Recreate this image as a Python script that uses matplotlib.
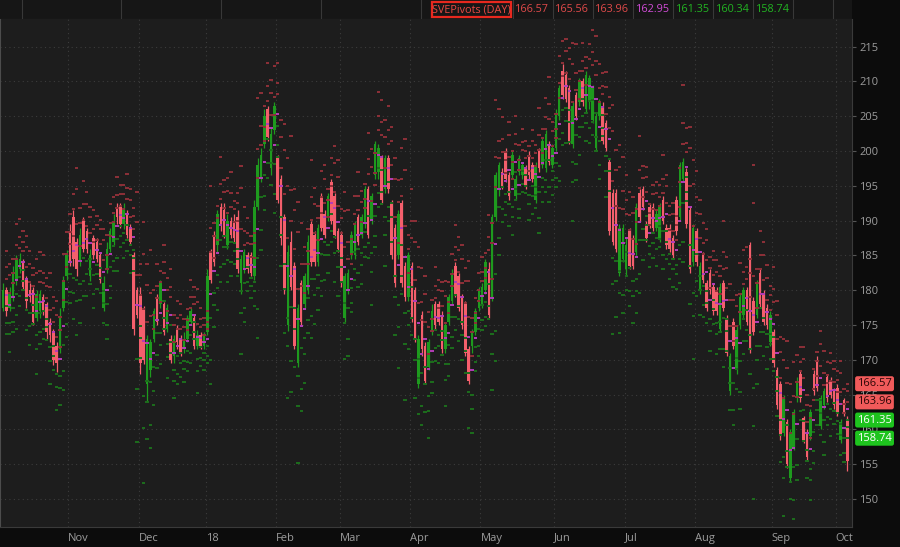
#!/usr/bin/env python3
"""Daily candles with SVE pivot levels, dark trading-platform style."""
import numpy as np
import matplotlib
matplotlib.use('Agg')
import matplotlib.pyplot as plt
from matplotlib.patches import Rectangle
from matplotlib.transforms import blended_transform_factory

# Daily OHLC (one value per bar, left to right)
opens = [177.5, 180, 177.5, 179, 181.5, 183, 184, 181.5, 180, 180, 176, 177, 179, 178, 175.5, 174, 172, 171.5, 177.5, 182,
         188.5, 190.5, 187, 184, 190, 188.5, 182, 187.5, 187, 185, 177.5, 183, 186, 187, 192, 192, 189.5, 191, 189, 185,
         180, 179.5, 177.5, 166.5, 168.5, 173, 179, 178, 178, 174.5, 173, 170.5, 174.5, 173, 171.5, 173, 175.5, 176, 172, 173.5,
         172, 174, 185.5, 188, 186.5, 192, 191.5, 186.5, 190, 190, 190.5, 181, 183, 185, 185, 182, 192, 196, 201, 206,
         197.5, 203, 199, 196, 190.5, 175, 187, 183.5, 169.5, 181, 178, 180, 189.5, 188, 184, 193.5, 191, 190.5, 195.5, 193.5,
         188.5, 188, 176, 180, 185, 185, 190.5, 188, 189.5, 194.5, 190, 196.5, 197, 199, 194.5, 199, 192.5, 189, 185, 192.5,
         183.5, 179, 183.5, 180, 166.5, 176.5, 172, 169, 174.2, 178, 178, 176.5, 171.5, 175.5, 178.5, 183.5, 182, 179, 178, 171.5,
         172, 174, 177.5, 178, 180, 183, 179, 190.5, 194.5, 197, 200, 196.5, 196.5, 193.5, 197, 196.5, 197.5, 199.5, 198, 193,
         200, 198, 197.5, 201, 198, 200.5, 205, 211.5, 211, 209, 201, 208, 207, 210, 206, 207, 204.5, 200.5, 205, 206.5,
         204, 198.5, 194, 194, 182.5, 184.5, 183, 188.5, 187.5, 185.5, 194, 194.5, 189.5, 192, 192, 189, 187.5, 193, 189, 189,
         187.5, 193, 190.5, 196, 197, 191.5, 184, 188.5, 180, 185, 181, 182.5, 180.5, 180, 174.5, 181, 176, 165.5, 175.5, 168.5,
         175, 176.5, 180, 186.5, 178.5, 176.5, 182.5, 179.5, 177.5, 172.5, 174, 168.5, 166.5, 159.5, 161, 153, 157.5, 164.5, 168, 161.7,
         159.5, 159, 168, 170, 160.5, 163.5, 167.5, 167, 165.5, 166, 158.5, 164.2, 161.5]
highs = [181, 180.5, 180.5, 183.5, 185, 185.3, 184.5, 182, 181, 180.5, 180, 180, 179.5, 178.3, 176, 174.5, 172.5, 177.5, 182, 185.8,
         189.5, 191.5, 187.5, 189, 190.5, 189, 186, 188, 187.5, 185.5, 182, 187, 189, 191, 192.5, 192.5, 192.5, 191.5, 189.5, 185.5,
         180.5, 180.5, 177.8, 173.5, 173, 177.5, 179.5, 181.5, 178.3, 178, 173.5, 173.5, 175, 173.5, 174, 176.5, 177.5, 176.5, 174.3, 174,
         174, 183, 186, 188.5, 191.5, 192.5, 192.5, 191, 190.5, 191, 191.5, 185, 186, 185.5, 185.5, 193, 199, 200.5, 206, 206.5,
         203.5, 207, 199.5, 196.5, 191, 186.5, 188.5, 184, 178, 181.5, 182.5, 188, 190, 188.5, 189.5, 194, 191.5, 194, 196, 194,
         189, 188.5, 182.5, 183, 188.5, 190, 191, 191, 195, 195, 194, 201.5, 201, 199.5, 199.5, 199.5, 193, 189.5, 191.5, 193,
         184, 185.5, 184, 180.5, 173.5, 177, 172.5, 173, 178, 178.5, 178.5, 177, 175.5, 179.5, 183, 184, 182.5, 179.5, 178.5, 172,
         174.5, 177.5, 180.5, 181, 184.5, 184, 191, 197, 198.5, 197.5, 200.5, 197, 200, 196.5, 199.5, 198.5, 198, 200, 198.5, 198.5,
         200.5, 202, 203, 201.5, 201, 206, 209.5, 212.5, 211.5, 209.5, 207, 208.5, 210.5, 210.5, 211.5, 211, 209.5, 205.5, 207.5, 207,
         204.5, 199, 194.5, 194.5, 189.5, 189.5, 187.5, 189, 188, 192.5, 194.5, 195, 190, 192.5, 192.5, 191.5, 192.5, 193.5, 189.5, 189.5,
         188, 193.5, 198.5, 199, 197.5, 192, 189.5, 189, 184, 185.5, 181.5, 183, 181, 180.5, 181, 181.5, 176.5, 171, 176, 175,
         179.5, 180.5, 180.5, 187, 179, 181.5, 183, 180, 178, 177, 174.5, 169, 167, 165, 161.5, 160, 163, 167.5, 168.5, 162,
         160, 163, 168.5, 170.5, 165, 166, 168, 167.5, 166, 166.5, 161.5, 164.55, 162]
lows = [177, 176.3, 177, 178.5, 180.8, 182.5, 180, 177.5, 178.3, 175, 175.6, 176, 176.5, 173, 172.5, 169.3, 168.3, 171, 177, 181.5,
        183.5, 183.5, 182, 183.5, 185.5, 185.3, 181.3, 184.5, 184, 181, 177, 182.5, 185.5, 186.5, 189.5, 189, 188.8, 187.5, 186.5, 173.5,
        176, 168, 169.4, 164, 167.5, 172.5, 175, 177.5, 173.5, 174, 169.5, 169.5, 171.5, 170.5, 171, 172.5, 175, 171.5, 171.5, 171.5,
        171.5, 173.5, 181, 183.5, 185.5, 188.5, 187.5, 186, 187.5, 187, 182.5, 179.5, 182.5, 182.5, 182, 181.5, 191.5, 195.5, 200.5, 201.5,
        196.5, 202.5, 192.5, 186.5, 179.5, 174.2, 180, 171.5, 169, 175, 177.5, 179.5, 183.5, 183.5, 183.5, 188.5, 187.5, 190, 189.5, 187.5,
        185.5, 180.5, 175.5, 179.5, 184.5, 184.5, 186.5, 187.5, 189, 187.5, 189.5, 196, 196, 192.5, 194, 194, 184.5, 180.5, 184.5, 180.5,
        178.5, 178.5, 175.5, 172.5, 166, 170.5, 166.5, 168.5, 173.5, 174.5, 175, 171, 171, 175, 178, 179, 177, 174.5, 170.5, 166.5,
        171, 173.5, 177, 177.5, 179.5, 176, 178.5, 190, 193.5, 194.5, 195.5, 193, 196, 193, 196.5, 196, 194.5, 196, 195.5, 192.5,
        197, 197.5, 197, 198, 197.5, 200, 204.5, 207.5, 207, 201, 200.5, 204.5, 206.5, 206.5, 205.5, 206, 204, 200, 204.5, 201,
        200, 188, 186.5, 185.5, 182, 184, 182, 183, 183, 185, 190, 191.5, 187, 189, 188.5, 188.5, 187, 189.5, 186, 185.5,
        184.5, 188, 190, 195.5, 189, 182.5, 183.5, 183.5, 179.5, 181, 177, 179.5, 176.5, 176.5, 174, 177, 170.5, 165, 171.5, 168,
        174.5, 176, 175, 171, 173.5, 176, 177.5, 175, 174.5, 172, 169, 163, 158.5, 159, 154.5, 152.5, 157, 164, 164, 158,
        155.5, 158.5, 165, 165.5, 160, 163, 164, 164.5, 163, 162, 158, 161.94, 154]
closes = [180, 177, 179.5, 182.5, 184.5, 184.5, 180.5, 178.5, 179, 175.5, 179.5, 179.5, 177, 174, 173.5, 170, 169.5, 176, 181.5, 185,
          184, 184.5, 183, 188, 186, 186, 185, 185, 184.5, 181.5, 181, 186, 188.5, 190, 190.5, 189.5, 191.5, 188, 187, 174.5,
          176.5, 169.5, 170, 173, 172.5, 177, 175.5, 181, 174, 177.5, 170, 173, 172.5, 171, 173, 176, 177, 172, 173.5, 172,
          173.5, 182, 181.5, 184, 191, 189.5, 188, 190, 188, 187.5, 183, 184.5, 185.5, 183, 182.5, 192, 198, 199.5, 205, 202,
          202.5, 206.5, 193, 187.5, 180, 185.5, 180.5, 172, 177.5, 175.5, 182, 187, 184, 184, 189, 189, 188, 193.5, 190, 188,
          186, 181, 182, 182.5, 188, 189.5, 187, 190.5, 194.5, 188, 193.5, 201, 200.5, 193, 199, 194.5, 185, 181, 191, 181,
          179, 185, 176, 173, 173, 171.5, 167, 172.5, 177, 175, 175.5, 171.5, 175, 179, 182.5, 179.5, 177.5, 175, 171, 167,
          174, 177, 180, 180.5, 184, 176.5, 190.5, 196.5, 198, 195, 196, 193.5, 199.5, 196, 199, 198, 195, 196.5, 196, 198,
          197.5, 201.5, 202.5, 198.5, 200.5, 205.5, 209, 208, 207.5, 201.5, 206.5, 205, 210, 207, 211, 210.5, 209, 205, 207, 201.5,
          200.5, 188.5, 187, 186, 189, 189, 186.5, 183.5, 183.5, 192, 190.5, 192, 187.5, 189.5, 189, 191, 192, 190, 186.5, 186,
          185, 188.5, 198, 198.5, 189.5, 183, 189, 184, 183.5, 181.5, 177.5, 180, 177, 177, 180.5, 177.5, 171, 170.5, 172, 174.3,
          179, 180, 175.5, 171.5, 174, 181, 178, 175.5, 175, 176.5, 169.5, 163.5, 159, 164.5, 155, 159.5, 162.5, 167, 164.5, 158.5,
          156, 162.5, 165.5, 166, 164.5, 165.5, 164.5, 165, 163.5, 162.5, 161, 162.36, 155.5]

# Month axis labels and the first bar of each month
month_labels = ['Nov', 'Dec', '18', 'Feb', 'Mar', 'Apr', 'May', 'Jun', 'Jul', 'Aug', 'Sep', 'Oct']
month_first_bar = [20, 41, 61, 82, 101, 122, 143, 165, 186, 207, 230, 249]
price_ticks = list(range(150, 220, 5))

# Colours
BG_FIG = '#0c0c0c'
BG_PLOT = '#1d1d1d'
BG_HEAD = '#161616'
GRID = '#3c3c3c'
TEXT = '#9c9c9c'
UP = '#1e9a1e'
DOWN = '#f45f6c'
RES = '#8e3038'
PIV = '#b43cb8'
SUP = '#1c6e1c'

FONT = 'Open Sans'
W, H = 900, 547


def sve_pivots(h, l, c):
    p = (h + l + c) / 3
    r1, s1 = 2 * p - l, 2 * p - h
    r2, s2 = p + (h - l), p - (h - l)
    r3, s3 = h + 2 * (p - l), l - 2 * (h - p)
    return [r3, r2, r1, p, s1, s2, s3]


o, hi, lo, c = map(np.array, (opens, highs, lows, closes))
n = len(c)
x = np.arange(n)

fig = plt.figure(figsize=(W / 100, H / 100), dpi=100)
fig.patch.set_facecolor(BG_FIG)

# Main price panel
ax = fig.add_axes([0, 20 / H, 852 / W, 508 / H])
ax.set_facecolor(BG_PLOT)
ax.set_xlim(-0.9, 253.4)
ax.set_ylim(145.98, 218.98)

for v in price_ticks:
    ax.axhline(v, color=GRID, lw=0.8, ls=(0, (1, 3)), zorder=0)
for b in month_first_bar:
    ax.axvline(b - 0.5, color=GRID, lw=0.8, ls=(0, (1, 3)), zorder=0)

# Candles
up = c >= o
cols = np.where(up, UP, DOWN)
ax.vlines(x, lo, hi, colors=cols, lw=0.9, zorder=2)
ax.bar(x, np.maximum(np.abs(c - o), 0.15), bottom=np.minimum(o, c), width=0.75,
       color=cols, linewidth=0, zorder=2)

# Pivot dashes, each day from the previous day's bar
piv = np.array([sve_pivots(hi[i - 1], lo[i - 1], c[i - 1]) for i in range(1, n)])
level_cols = [RES, RES, RES, PIV, SUP, SUP, SUP]
for k, col in enumerate(level_cols):
    ax.hlines(piv[:, k], x[1:] - 0.5, x[1:] + 0.5, colors=col, lw=1.4, zorder=3)

# Axes styling
ax.yaxis.tick_right()
ax.set_yticks(price_ticks)
ax.set_yticklabels([str(v) for v in price_ticks], fontfamily=FONT)
ax.tick_params(axis='y', colors='#555555', labelcolor=TEXT, labelsize=8, length=3, pad=2)
ax.set_xticks([b - 0.5 for b in month_first_bar])
ax.set_xticklabels(month_labels, fontfamily=FONT, ha='left')
ax.tick_params(axis='x', colors='#555555', labelcolor=TEXT, labelsize=8, length=0, pad=4)
ax.spines['top'].set_visible(False)
ax.spines['left'].set_color('#4c4c4c')
ax.spines['left'].set_linewidth(1.5)
ax.spines['right'].set_color('#3a3a3a')
ax.spines['bottom'].set_color('#3a3a3a')

# Last-bar pivot flags on the price axis
last = piv[-1]
trans = blended_transform_factory(ax.transAxes, ax.transData)
for val, fc, tc in [(last[0], '#f05a5a', '#2a0606'), (last[2], '#f05a5a', '#2a0606'),
                    (last[4], '#1ec41e', '#ffffff'), (last[6], '#1ec41e', '#ffffff')]:
    ax.text(1.006, val, f'{val:.2f}', transform=trans, ha='left', va='center',
            fontsize=8, color=tc, fontfamily=FONT, clip_on=False, zorder=5,
            bbox=dict(boxstyle='round,pad=0.18,rounding_size=0.2', fc=fc, ec='none'))

# Header strip with study name and current levels
hx = fig.add_axes([0, 528 / H, 852 / W, 19 / H])
hx.set_xlim(0, 852)
hx.set_ylim(0, 19)
hx.set_facecolor(BG_HEAD)
hx.set_xticks([])
hx.set_yticks([])
for s in hx.spines.values():
    s.set_visible(False)
for sx in [22, 121, 221, 321, 421, 513, 553, 593, 633, 673, 713, 753, 793, 833]:
    hx.plot([sx, sx], [0, 19], color='#383838', lw=0.8)
hx.plot([0, 852], [0.4, 0.4], color='#383838', lw=0.8)
hx.add_patch(Rectangle((432, 2), 79, 15, fill=False, ec='#e8281e', lw=1.6))
hx.text(471.5, 9.5, 'SVEPivots (DAY)', ha='center', va='center', fontsize=7.8,
        color='#e84a44', fontfamily=FONT)
head_cols = ['#e04a4a', '#e04a4a', '#e04a4a', '#d24cd8', '#22b422', '#22b422', '#22b422']
for k in range(7):
    hx.text(515 + 40.2 * k, 9.5, f'{last[k]:.2f}', ha='left', va='center', fontsize=7.8,
            color=head_cols[k], fontfamily=FONT)

fig.savefig('out.png', dpi=100, facecolor=BG_FIG)
plt.close(fig)
